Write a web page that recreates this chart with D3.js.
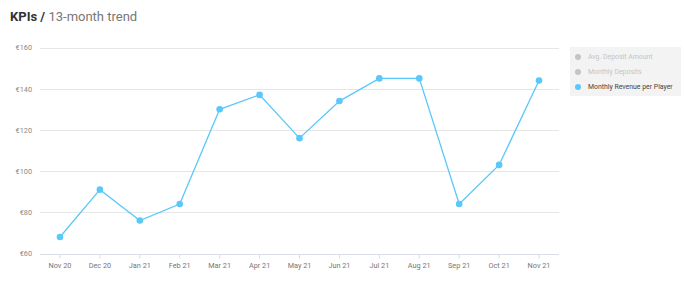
<!DOCTYPE html>
<html>
<head>
<meta charset="utf-8">
<script src="https://cdn.jsdelivr.net/npm/d3@7"></script>
<style>
  body { margin: 0; background: #fff; font-family: Roboto, sans-serif; }
</style>
</head>
<body>
<div id="chart"></div>
<script>
const months = ['Nov 20', 'Dec 20', 'Jan 21', 'Feb 21', 'Mar 21', 'Apr 21', 'May 21',
    'Jun 21', 'Jul 21', 'Aug 21', 'Sep 21', 'Oct 21', 'Nov 21'];
const revenuePerPlayer = [68, 91, 76, 84, 130, 137, 116, 134, 145, 145, 84, 103, 144];
const yTicks = [60, 80, 100, 120, 140, 160];
const legendItems = [
    { label: 'Avg. Deposit Amount', active: false },
    { label: 'Monthly Deposits', active: false },
    { label: 'Monthly Revenue per Player', active: true }
];

const width = 685, height = 281;
const margin = { top: 47.5, right: 126, bottom: 27.5, left: 40 };
const lineColor = '#5ac8fa';

const svg = d3.select('#chart')
    .append('svg')
    .attr('width', width)
    .attr('height', height);

// Title
const title = svg.append('text')
    .attr('x', 10)
    .attr('y', 21)
    .attr('font-size', 13);
title.append('tspan').attr('font-weight', 700).attr('fill', '#333').text('KPIs / ');
title.append('tspan').attr('fill', '#777').text('13-month trend');

const xScale = d3.scaleBand()
    .domain(months)
    .range([margin.left, width - margin.right]);

const yScale = d3.scaleLinear()
    .domain([60, 160])
    .range([height - margin.bottom, margin.top]);

// Grid lines
svg.append('g')
    .selectAll('line')
    .data(yTicks)
    .enter()
    .append('line')
    .attr('x1', margin.left)
    .attr('x2', width - margin.right)
    .attr('y1', d => Math.round(yScale(d)) + 0.5)
    .attr('y2', d => Math.round(yScale(d)) + 0.5)
    .attr('stroke', d => d === 60 ? '#d8dde6' : '#e6e6e6')
    .attr('stroke-width', 1);

// Y axis labels
const yAxis = d3.axisLeft(yScale)
    .tickValues(yTicks)
    .tickSize(0)
    .tickPadding(8)
    .tickFormat(d => '€' + d);

svg.append('g')
    .attr('transform', `translate(${margin.left},0)`)
    .call(yAxis)
    .call(g => g.select('.domain').remove())
    .call(g => g.selectAll('text')
        .attr('fill', '#888')
        .attr('font-size', 7.3)
        .attr('font-family', 'Roboto, sans-serif'));

// X axis
const xAxis = d3.axisBottom(xScale)
    .tickSize(4)
    .tickPadding(4);

svg.append('g')
    .attr('transform', `translate(0,${Math.round(yScale(60)) + 0.5})`)
    .call(xAxis)
    .call(g => g.select('.domain').remove())
    .call(g => g.selectAll('line').attr('stroke', '#d8dde6'))
    .call(g => g.selectAll('text')
        .attr('fill', '#777')
        .attr('font-size', 7.3)
        .attr('font-family', 'Roboto, sans-serif'));

// Line
const line = d3.line()
    .x((d, i) => xScale(months[i]) + xScale.bandwidth() / 2)
    .y(d => yScale(d));

svg.append('path')
    .datum(revenuePerPlayer)
    .attr('fill', 'none')
    .attr('stroke', lineColor)
    .attr('stroke-width', 1.3)
    .attr('d', line);

svg.selectAll('.point')
    .data(revenuePerPlayer)
    .enter()
    .append('circle')
    .attr('class', 'point')
    .attr('cx', (d, i) => xScale(months[i]) + xScale.bandwidth() / 2)
    .attr('cy', d => yScale(d))
    .attr('r', 3.3)
    .attr('fill', lineColor);

// Legend
const legend = svg.append('g')
    .attr('transform', 'translate(570,47)');

legend.append('rect')
    .attr('width', 111)
    .attr('height', 49)
    .attr('fill', '#f3f3f3');

const items = legend.selectAll('.legend-item')
    .data(legendItems)
    .enter()
    .append('g')
    .attr('class', 'legend-item')
    .attr('transform', (d, i) => `translate(0,${10 + i * 15})`);

items.append('circle')
    .attr('cx', 8)
    .attr('cy', 0)
    .attr('r', 3)
    .attr('fill', d => d.active ? lineColor : '#c4c4c4');

items.append('text')
    .attr('x', 18)
    .attr('y', 0)
    .attr('dy', '0.35em')
    .attr('font-size', 6.9)
    .attr('fill', d => d.active ? '#444' : '#c4c4c4')
    .text(d => d.label);
</script>
</body>
</html>
